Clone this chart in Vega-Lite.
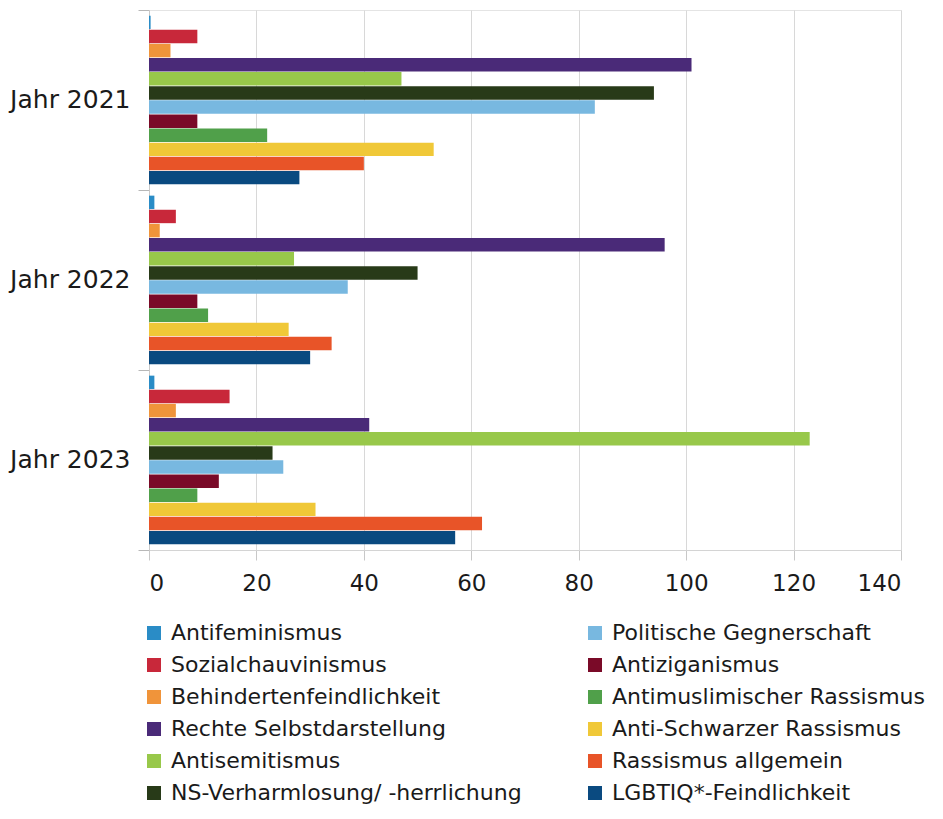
{
  "$schema": "https://vega.github.io/schema/vega-lite/v6.json",
  "autosize": {"type": "none"},
  "padding": {"left": 149, "top": 10, "right": 42, "bottom": 269},
  "width": 752,
  "height": 540,
  "background": "white",
  "config": {
    "font": "DejaVu Sans",
    "view": {"stroke": "#e4e4e4"}
  },
  "data": {
    "values": [
      {"jahr": "Jahr 2021", "kat": "Antifeminismus", "wert": 0.3},
      {"jahr": "Jahr 2021", "kat": "Sozialchauvinismus", "wert": 9},
      {"jahr": "Jahr 2021", "kat": "Behindertenfeindlichkeit", "wert": 4},
      {"jahr": "Jahr 2021", "kat": "Rechte Selbstdarstellung", "wert": 101},
      {"jahr": "Jahr 2021", "kat": "Antisemitismus", "wert": 47},
      {"jahr": "Jahr 2021", "kat": "NS-Verharmlosung/ -herrlichung", "wert": 94},
      {"jahr": "Jahr 2021", "kat": "Politische Gegnerschaft", "wert": 83},
      {"jahr": "Jahr 2021", "kat": "Antiziganismus", "wert": 9},
      {"jahr": "Jahr 2021", "kat": "Antimuslimischer Rassismus", "wert": 22},
      {"jahr": "Jahr 2021", "kat": "Anti-Schwarzer Rassismus", "wert": 53},
      {"jahr": "Jahr 2021", "kat": "Rassismus allgemein", "wert": 40},
      {"jahr": "Jahr 2021", "kat": "LGBTIQ*-Feindlichkeit", "wert": 28},
      {"jahr": "Jahr 2022", "kat": "Antifeminismus", "wert": 1},
      {"jahr": "Jahr 2022", "kat": "Sozialchauvinismus", "wert": 5},
      {"jahr": "Jahr 2022", "kat": "Behindertenfeindlichkeit", "wert": 2},
      {"jahr": "Jahr 2022", "kat": "Rechte Selbstdarstellung", "wert": 96},
      {"jahr": "Jahr 2022", "kat": "Antisemitismus", "wert": 27},
      {"jahr": "Jahr 2022", "kat": "NS-Verharmlosung/ -herrlichung", "wert": 50},
      {"jahr": "Jahr 2022", "kat": "Politische Gegnerschaft", "wert": 37},
      {"jahr": "Jahr 2022", "kat": "Antiziganismus", "wert": 9},
      {"jahr": "Jahr 2022", "kat": "Antimuslimischer Rassismus", "wert": 11},
      {"jahr": "Jahr 2022", "kat": "Anti-Schwarzer Rassismus", "wert": 26},
      {"jahr": "Jahr 2022", "kat": "Rassismus allgemein", "wert": 34},
      {"jahr": "Jahr 2022", "kat": "LGBTIQ*-Feindlichkeit", "wert": 30},
      {"jahr": "Jahr 2023", "kat": "Antifeminismus", "wert": 1},
      {"jahr": "Jahr 2023", "kat": "Sozialchauvinismus", "wert": 15},
      {"jahr": "Jahr 2023", "kat": "Behindertenfeindlichkeit", "wert": 5},
      {"jahr": "Jahr 2023", "kat": "Rechte Selbstdarstellung", "wert": 41},
      {"jahr": "Jahr 2023", "kat": "Antisemitismus", "wert": 123},
      {"jahr": "Jahr 2023", "kat": "NS-Verharmlosung/ -herrlichung", "wert": 23},
      {"jahr": "Jahr 2023", "kat": "Politische Gegnerschaft", "wert": 25},
      {"jahr": "Jahr 2023", "kat": "Antiziganismus", "wert": 13},
      {"jahr": "Jahr 2023", "kat": "Antimuslimischer Rassismus", "wert": 9},
      {"jahr": "Jahr 2023", "kat": "Anti-Schwarzer Rassismus", "wert": 31},
      {"jahr": "Jahr 2023", "kat": "Rassismus allgemein", "wert": 62},
      {"jahr": "Jahr 2023", "kat": "LGBTIQ*-Feindlichkeit", "wert": 57}
    ]
  },
  "mark": {"type": "bar"},
  "encoding": {
    "y": {
      "field": "jahr",
      "type": "nominal",
      "scale": {"paddingInner": 0, "paddingOuter": 0},
      "axis": {
        "title": null,
        "bandPosition": 1,
        "tickExtra": true,
        "tickSize": 11,
        "tickColor": "#b8b8b8",
        "domainColor": "#c8c8c8",
        "labelFontSize": 25,
        "labelColor": "#1a1a1a",
        "labelPadding": 8
      }
    },
    "yOffset": {
      "field": "kat",
      "type": "nominal",
      "scale": {
        "domain": ["Antifeminismus", "Sozialchauvinismus", "Behindertenfeindlichkeit", "Rechte Selbstdarstellung", "Antisemitismus", "NS-Verharmlosung/ -herrlichung", "Politische Gegnerschaft", "Antiziganismus", "Antimuslimischer Rassismus", "Anti-Schwarzer Rassismus", "Rassismus allgemein", "LGBTIQ*-Feindlichkeit"],
        "paddingInner": 0.05,
        "paddingOuter": 0.4
      }
    },
    "x": {
      "field": "wert",
      "type": "quantitative",
      "scale": {"domain": [0, 140], "nice": false},
      "axis": {
        "title": null,
        "values": [0, 20, 40, 60, 80, 100, 120, 140],
        "tickSize": 10,
        "tickColor": "#c8c8c8",
        "domainColor": "#d4d4d4",
        "gridColor": "#d8d8d8",
        "labelFontSize": 23,
        "labelColor": "#1a1a1a",
        "labelPadding": 12
      }
    },
    "color": {
      "field": "kat",
      "type": "nominal",
      "scale": {
        "domain": ["Antifeminismus", "Sozialchauvinismus", "Behindertenfeindlichkeit", "Rechte Selbstdarstellung", "Antisemitismus", "NS-Verharmlosung/ -herrlichung", "Politische Gegnerschaft", "Antiziganismus", "Antimuslimischer Rassismus", "Anti-Schwarzer Rassismus", "Rassismus allgemein", "LGBTIQ*-Feindlichkeit"],
        "range": ["#2a8cc6", "#c8283a", "#f0943a", "#4a2a78", "#98c84a", "#283a18", "#78b8e0", "#7a0a28", "#50a04a", "#f0c838", "#e85428", "#0a4a80"]
      },
      "legend": {
        "title": null,
        "orient": "none",
        "legendX": -6,
        "legendY": 612,
        "columns": 2,
        "columnPadding": 62,
        "rowPadding": 10,
        "symbolType": "square",
        "symbolSize": 196,
        "symbolStrokeWidth": 0,
        "labelFontSize": 22,
        "labelColor": "#1a1a1a",
        "labelOffset": 6,
        "labelLimit": 500
      }
    }
  }
}
